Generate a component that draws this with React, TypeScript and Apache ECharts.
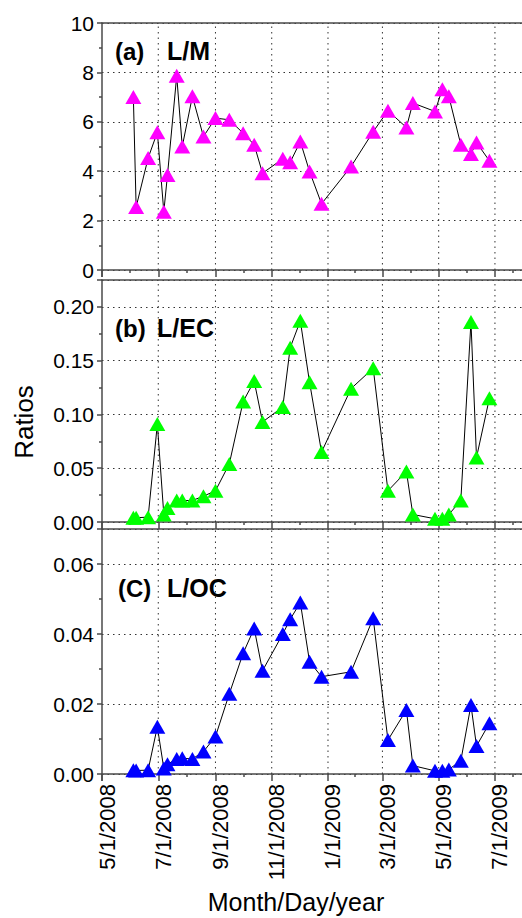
import React, { useEffect, useRef } from 'react';
import * as echarts from 'echarts';

const sampleDates = [
  '2008-06-04', '2008-06-07', '2008-06-20', '2008-06-30', '2008-07-07', '2008-07-11',
  '2008-07-21', '2008-07-27', '2008-08-07', '2008-08-19', '2008-09-01', '2008-09-16',
  '2008-10-01', '2008-10-13', '2008-10-22', '2008-11-13', '2008-11-21', '2008-12-02',
  '2008-12-12', '2008-12-25', '2009-01-26', '2009-02-19', '2009-03-07', '2009-03-27',
  '2009-04-03', '2009-04-27', '2009-05-05', '2009-05-12', '2009-05-25', '2009-06-05',
  '2009-06-11', '2009-06-25',
];

const lmRatios = [
  7.0, 2.55, 4.53, 5.58, 2.36, 3.85, 7.86, 5.0, 7.03, 5.4, 6.15, 6.08,
  5.54, 5.07, 3.92, 4.5, 4.36, 5.2, 3.99, 2.68, 4.19, 5.6, 6.45, 5.77,
  6.76, 6.42, 7.32, 7.03, 5.07, 4.7, 5.16, 4.42,
];

const lecRatios = [
  0.004, 0.004, 0.0045, 0.091, 0.007, 0.013, 0.02, 0.02, 0.02, 0.024, 0.029, 0.054,
  0.112, 0.131, 0.093, 0.107, 0.162, 0.187, 0.13, 0.065, 0.124, 0.143, 0.029, 0.047,
  0.007, 0.003, 0.003, 0.007, 0.02, 0.186, 0.06, 0.115,
];

const locRatios = [
  0.0011, 0.001, 0.0011, 0.0135, 0.0016, 0.0028, 0.0043, 0.0045, 0.0043, 0.0064, 0.0107, 0.0229,
  0.0345, 0.0416, 0.0295, 0.04, 0.0442, 0.049, 0.0321, 0.0278, 0.0292, 0.0445, 0.0097, 0.0183,
  0.0024, 0.0009, 0.0009, 0.0013, 0.0038, 0.0197, 0.008, 0.0145,
];

const gridDates = [
  '2008-07-01', '2008-09-01', '2008-11-01', '2009-01-01', '2009-03-01', '2009-05-01', '2009-07-01',
];

const panelTags = ['(a)', '(b)', '(C)'];
const panelNames = ['L/M', 'L/EC', 'L/OC'];
const xAxisStart = '2008-05-01';
const xAxisEnd = '2009-08-08';

const FONT = '"Liberation Sans", Arial, Helvetica, sans-serif';

function toTime(s: string): number {
  const [y, m, d] = s.split('-').map(Number);
  return new Date(y, m - 1, d).getTime();
}

function fmtDate(v: number): string {
  const d = new Date(v);
  return `${d.getMonth() + 1}/${d.getDate()}/${d.getFullYear()}`;
}

export default function App() {
  const ref = useRef<HTMLDivElement>(null);

  useEffect(() => {
    if (!ref.current) return;
    const chart = echarts.init(ref.current, undefined, { renderer: 'svg' });

    const axisColor = '#4a4a4a';
    const dotted = { color: '#333', width: 1, type: [1.5, 4] as any };

    const grids = [
      { left: 102, width: 428, top: 23, height: 247 },
      { left: 102, width: 428, top: 280, height: 242 },
      { left: 102, width: 428, top: 529, height: 245 },
    ].map((g) => ({ ...g, show: false, containLabel: false }));

    const bottomAxes = [0, 1, 2].map((i) => ({
      type: 'time',
      gridIndex: i,
      position: 'bottom',
      min: toTime(xAxisStart),
      max: toTime(xAxisEnd),
      splitNumber: 7,
      minInterval: 55 * 86400000,
      maxInterval: 65 * 86400000,
      axisLine: { show: true, lineStyle: { color: axisColor, width: 1.5 } },
      axisTick: { show: true, inside: false, length: 7, lineStyle: { color: axisColor, width: 1.5 } },
      minorTick: { show: true, splitNumber: 2, length: 3, lineStyle: { color: axisColor, width: 1.5 } },
      splitLine: { show: false },
      axisLabel: {
        show: i === 2,
        rotate: 90,
        margin: 10,
        fontSize: 22,
        color: '#000',
        fontFamily: FONT,
        padding: [10, 0, 0, 0],
        formatter: (v: number) => fmtDate(v),
        showMinLabel: true,
        showMaxLabel: false,
        hideOverlap: false,
      },
    }));

    const topAxes = [0, 1, 2].map((i) => ({
      type: 'time',
      gridIndex: i,
      position: 'top',
      min: toTime(xAxisStart),
      max: toTime(xAxisEnd),
      axisLine: { show: true, lineStyle: { color: axisColor, width: 1.5 } },
      axisTick: { show: false },
      axisLabel: { show: false },
      splitLine: { show: false },
    }));

    const yCfg = [
      { min: 0, max: 10, interval: 2, dec: 0 },
      { min: 0, max: 0.225, interval: 0.05, dec: 2 },
      { min: 0, max: 0.07, interval: 0.02, dec: 2 },
    ];

    const yAxes = yCfg.map((c, i) => ({
      type: 'value',
      gridIndex: i,
      min: c.min,
      max: c.max,
      interval: c.interval,
      axisLine: { show: true, lineStyle: { color: axisColor, width: 1.5 } },
      axisTick: { show: true, inside: false, length: 5, lineStyle: { color: axisColor, width: 1.5 } },
      minorTick: { show: true, splitNumber: 2, length: 3, lineStyle: { color: axisColor, width: 1.5 } },
      splitLine: { show: true, lineStyle: dotted },
      axisLabel: {
        margin: 8,
        fontSize: 21,
        color: '#000',
        fontFamily: FONT,
        showMaxLabel: i === 0,
        formatter: (v: number) => (c.dec === 0 ? String(Math.round(v)) : v.toFixed(c.dec)),
      },
    }));

    const colors = ['#ff00ff', '#00ff00', '#0000ff'];
    const values = [lmRatios, lecRatios, locRatios];

    const gridSeries: any[] = [];
    yCfg.forEach((c, i) => {
      gridDates.forEach((d) => {
        gridSeries.push({
          type: 'line',
          xAxisIndex: i,
          yAxisIndex: i,
          data: [[toTime(d), c.min], [toTime(d), c.max]],
          symbol: 'none',
          silent: true,
          lineStyle: dotted,
          z: 1,
        });
      });
    });

    const dataSeries = values.map((vals, i) => ({
      type: 'line',
      xAxisIndex: i,
      yAxisIndex: i,
      data: sampleDates.map((d, k) => [toTime(d), vals[k]]),
      symbol: 'triangle',
      symbolSize: [16, 14],
      showAllSymbol: true,
      lineStyle: { color: '#000', width: 1 },
      itemStyle: { color: colors[i], borderWidth: 0 },
      z: 3,
    }));

    const tagPos = [
      { tx: 115, nx: 167, y: 51 },
      { tx: 115, nx: 157, y: 328 },
      { tx: 118, nx: 167, y: 588 },
    ];

    const graphics: any[] = [];
    tagPos.forEach((p, i) => {
      graphics.push({
        type: 'text', x: p.tx, y: p.y, z: 10,
        style: { text: panelTags[i], fontSize: 24, fontWeight: 'bold', fontFamily: FONT, fill: '#000', verticalAlign: 'middle', align: 'left' },
      });
      graphics.push({
        type: 'text', x: p.nx, y: p.y, z: 10,
        style: { text: panelNames[i], fontSize: 25, fontWeight: 'bold', fontFamily: FONT, fill: '#000', verticalAlign: 'middle', align: 'left' },
      });
    });
    graphics.push({
      type: 'text', x: 24, y: 422, rotation: Math.PI / 2,
      style: { text: 'Ratios', fontSize: 26, fontFamily: FONT, fill: '#000', align: 'center', verticalAlign: 'middle' },
    });
    graphics.push({
      type: 'text', x: 296, y: 902,
      style: { text: 'Month/Day/year', fontSize: 25, fontFamily: FONT, fill: '#000', align: 'center', verticalAlign: 'middle' },
    });

    chart.setOption({
      animation: false,
      backgroundColor: '#fff',
      grid: grids,
      xAxis: [...bottomAxes, ...topAxes],
      yAxis: yAxes,
      series: [...gridSeries, ...dataSeries],
      graphic: graphics,
    } as any);

    return () => chart.dispose();
  }, []);

  return (
    <div style={{ position: 'absolute', left: 0, top: 0, width: 522, height: 918, overflow: 'hidden' }}>
      <div ref={ref} style={{ width: 540, height: 918 }} />
    </div>
  );
}
